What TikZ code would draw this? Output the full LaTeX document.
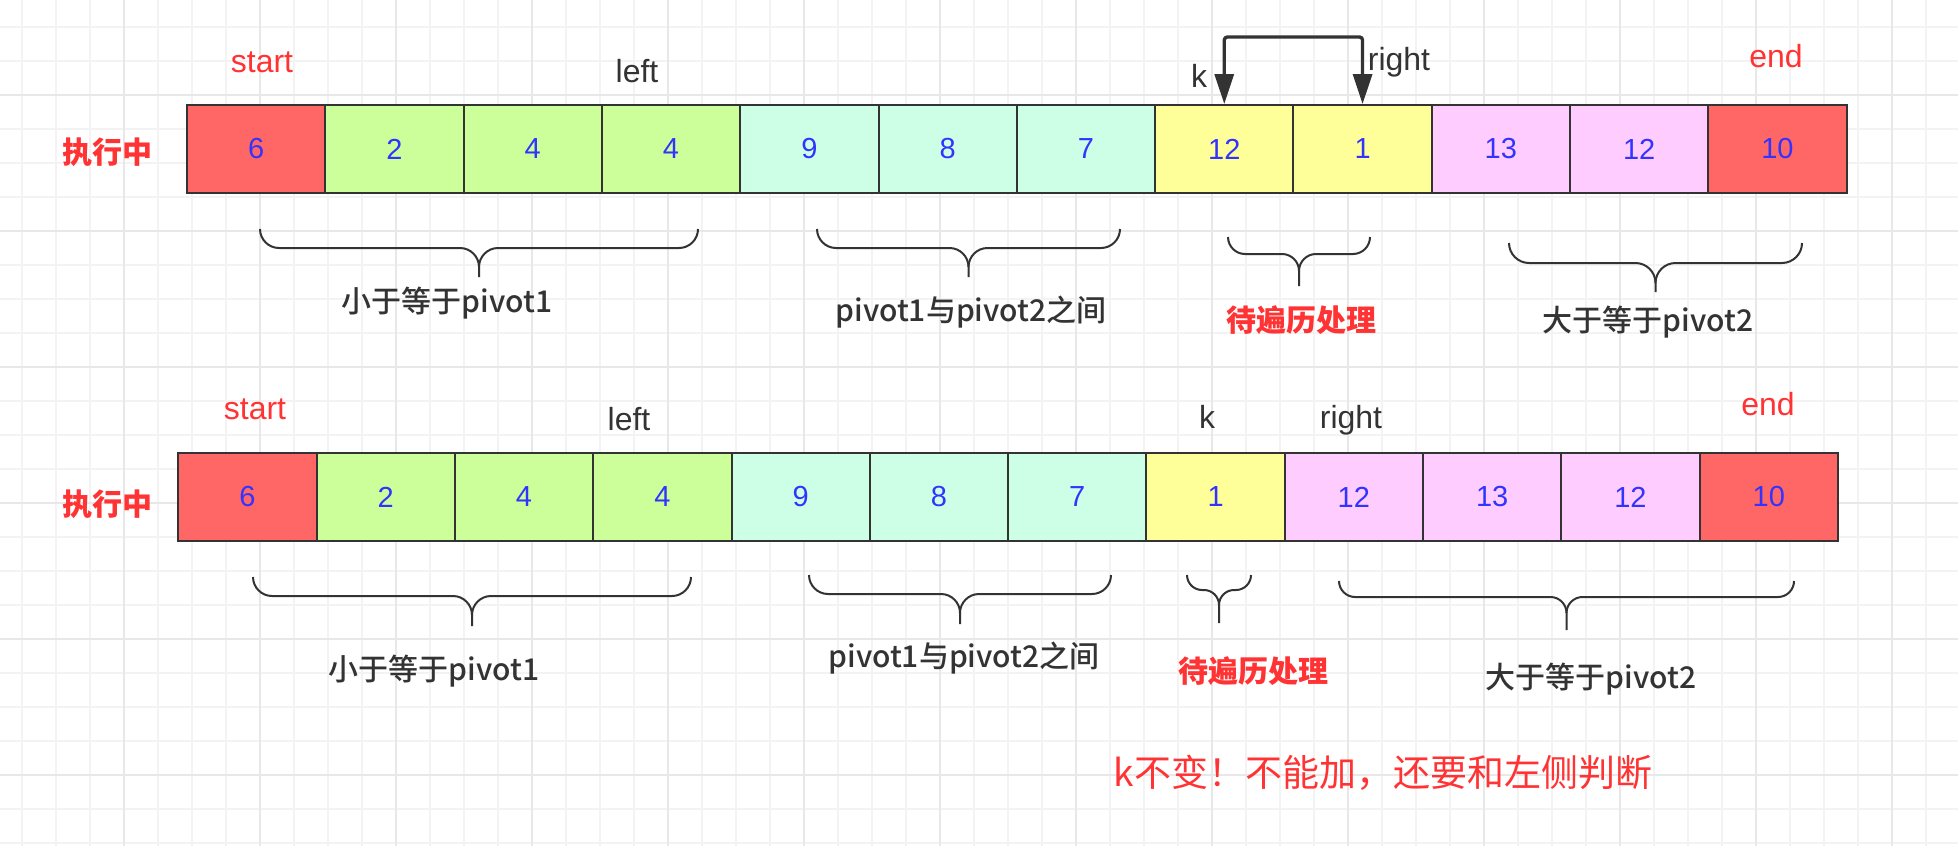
\documentclass[tikz,border=0pt]{standalone}
\usepackage{fontspec}
\setmainfont{Liberation Sans}
\newfontfamily\cjk{Noto Sans CJK SC}
\newfontfamily\cjkmed{Noto Sans CJK SC Medium}
\usetikzlibrary{arrows.meta}

\definecolor{cellred}{HTML}{FF6666}
\definecolor{cellgreen}{HTML}{CCFF99}
\definecolor{cellcyan}{HTML}{CCFFE6}
\definecolor{cellyellow}{HTML}{FFFF99}
\definecolor{cellpink}{HTML}{FFCCFF}
\definecolor{numblue}{HTML}{3333FF}
\definecolor{txtred}{HTML}{FF3333}
\definecolor{txtdark}{HTML}{333333}
\definecolor{gridminor}{HTML}{F3F3F3}
\definecolor{gridmajor}{HTML}{E8E8E8}

% curly bracket: left x, right x, top y, tip y, curl
\newcommand{\curly}[5]{%
  \draw[bracket] (#1,#3) .. controls (#1,{#3+0.55*#5}) and ({#1+0.45*#5},{#3+#5}) .. ({#1+#5},{#3+#5})
    -- ({(#1+#2)/2-#5},{#3+#5}) .. controls ({(#1+#2)/2-0.45*#5},{#3+#5}) and ({(#1+#2)/2},{#3+1.45*#5}) .. ({(#1+#2)/2},{#3+2*#5})
    -- ({(#1+#2)/2},#4);
  \draw[bracket] (#2,#3) .. controls (#2,{#3+0.55*#5}) and ({#2-0.45*#5},{#3+#5}) .. ({#2-#5},{#3+#5})
    -- ({(#1+#2)/2+#5},{#3+#5}) .. controls ({(#1+#2)/2+0.45*#5},{#3+#5}) and ({(#1+#2)/2},{#3+1.45*#5}) .. ({(#1+#2)/2},{#3+2*#5});
}

\begin{document}
\begin{tikzpicture}[x=0.5pt, y=-0.5pt,
    cell/.style={draw=txtdark, line width=1pt, minimum width=69.15pt, minimum height=44pt,
      inner sep=0pt, text=numblue, font=\fontsize{14.5}{17}\selectfont},
    ptr/.style={anchor=base, inner sep=0pt, text=txtdark, font=\fontsize{16}{19}\selectfont},
    ptrred/.style={ptr, text=txtred},
    state/.style={inner sep=0pt, text=txtred, font=\cjk\bfseries\fontsize{15}{18}\selectfont},
    part/.style={inner sep=0pt, text=txtdark, font=\cjkmed\fontsize{15}{18}\selectfont},
    partred/.style={part, text=txtred, font=\cjk\bfseries\fontsize{15}{18}\selectfont},
    note/.style={inner sep=0pt, text=txtred, font=\cjk\fontsize{18.5}{22}\selectfont},
    bracket/.style={draw=txtdark, line width=1pt},
    jump/.style={draw=txtdark, line width=1.65pt, rounded corners=1.5pt,
      {Triangle[length=15pt,width=9.5pt]}-{Triangle[length=15pt,width=9.5pt]}}]

	% background grid
	\useasboundingbox (0,0) rectangle (1958,846);
	\fill[white] (0,0) rectangle (1958,846);
	\foreach \i in {0,...,57} \draw[gridminor, line width=0.8pt] ({21.7+34*\i},0) -- ({21.7+34*\i},846);
	\foreach \j in {0,...,24} \draw[gridminor, line width=0.8pt] (0,{26.7+34*\j}) -- (1958,{26.7+34*\j});
	\foreach \i in {0,...,13} \draw[gridmajor, line width=0.9pt] ({123.7+136*\i},0) -- ({123.7+136*\i},846);
	\foreach \j in {0,...,5} \draw[gridmajor, line width=0.9pt] (0,{95+136*\j}) -- (1958,{95+136*\j});

	% first row
	\node[state] (run1) at (107,152) {执行中};
	\foreach \v/\c [count=\i] in {6/cellred, 2/cellgreen, 4/cellgreen, 4/cellgreen, 9/cellcyan, 8/cellcyan,
	    7/cellcyan, 12/cellyellow, 1/cellyellow, 13/cellpink, 12/cellpink, 10/cellred}
		\node[cell, fill=\c] (a\i) at ({187+138.3*(\i-0.5)},149) {\v};

	\node[ptrred] (st1) at (262,72) {start};
	\node[ptr]    (lf1) at (637,82) {left};
	\node[ptr]    (kk1) at (1199,87) {k};
	\node[ptr]    (rt1) at (1399,70) {right};
	\node[ptrred] (en1) at (1776,67) {end};

	\draw[jump] (a8.north) -- ++(0,-67) -| (a9.north);

	\curly{260}{698}{229}{277}{19}
	\curly{817}{1120}{229}{277}{19}
	\curly{1228}{1370}{237}{286}{17}
	\curly{1509}{1802}{243}{292}{20}

	\node[part]    (le1) at (447,303) {小于等于pivot1};
	\node[part]    (md1) at (971,312) {pivot1与pivot2之间};
	\node[partred] (td1) at (1301,320) {待遍历处理};
	\node[part]    (ge1) at (1648,322) {大于等于pivot2};

	% second row
	\node[state] (run2) at (107,504) {执行中};
	\foreach \v/\c [count=\i] in {6/cellred, 2/cellgreen, 4/cellgreen, 4/cellgreen, 9/cellcyan, 8/cellcyan,
	    7/cellcyan, 1/cellyellow, 12/cellpink, 13/cellpink, 12/cellpink, 10/cellred}
		\node[cell, fill=\c] (b\i) at ({178.3+138.3*(\i-0.5)},497) {\v};

	\node[ptrred] (st2) at (255,419) {start};
	\node[ptr]    (lf2) at (629,430) {left};
	\node[ptr]    (kk2) at (1207,428) {k};
	\node[ptr]    (rt2) at (1351,428) {right};
	\node[ptrred] (en2) at (1768,415) {end};

	\curly{253}{691}{577}{626}{19}
	\curly{809}{1111}{575}{624}{19}
	\curly{1187}{1251}{575}{623}{15}
	\curly{1339}{1794}{581}{630}{16}

	\node[part]    (le2) at (434,671) {小于等于pivot1};
	\node[part]    (md2) at (964,658) {pivot1与pivot2之间};
	\node[partred] (td2) at (1253,671) {待遍历处理};
	\node[part]    (ge2) at (1591,679) {大于等于pivot2};

	\node[note] (nt) at (1383,773) {k不变！不能加，还要和左侧判断};
\end{tikzpicture}
\end{document}
